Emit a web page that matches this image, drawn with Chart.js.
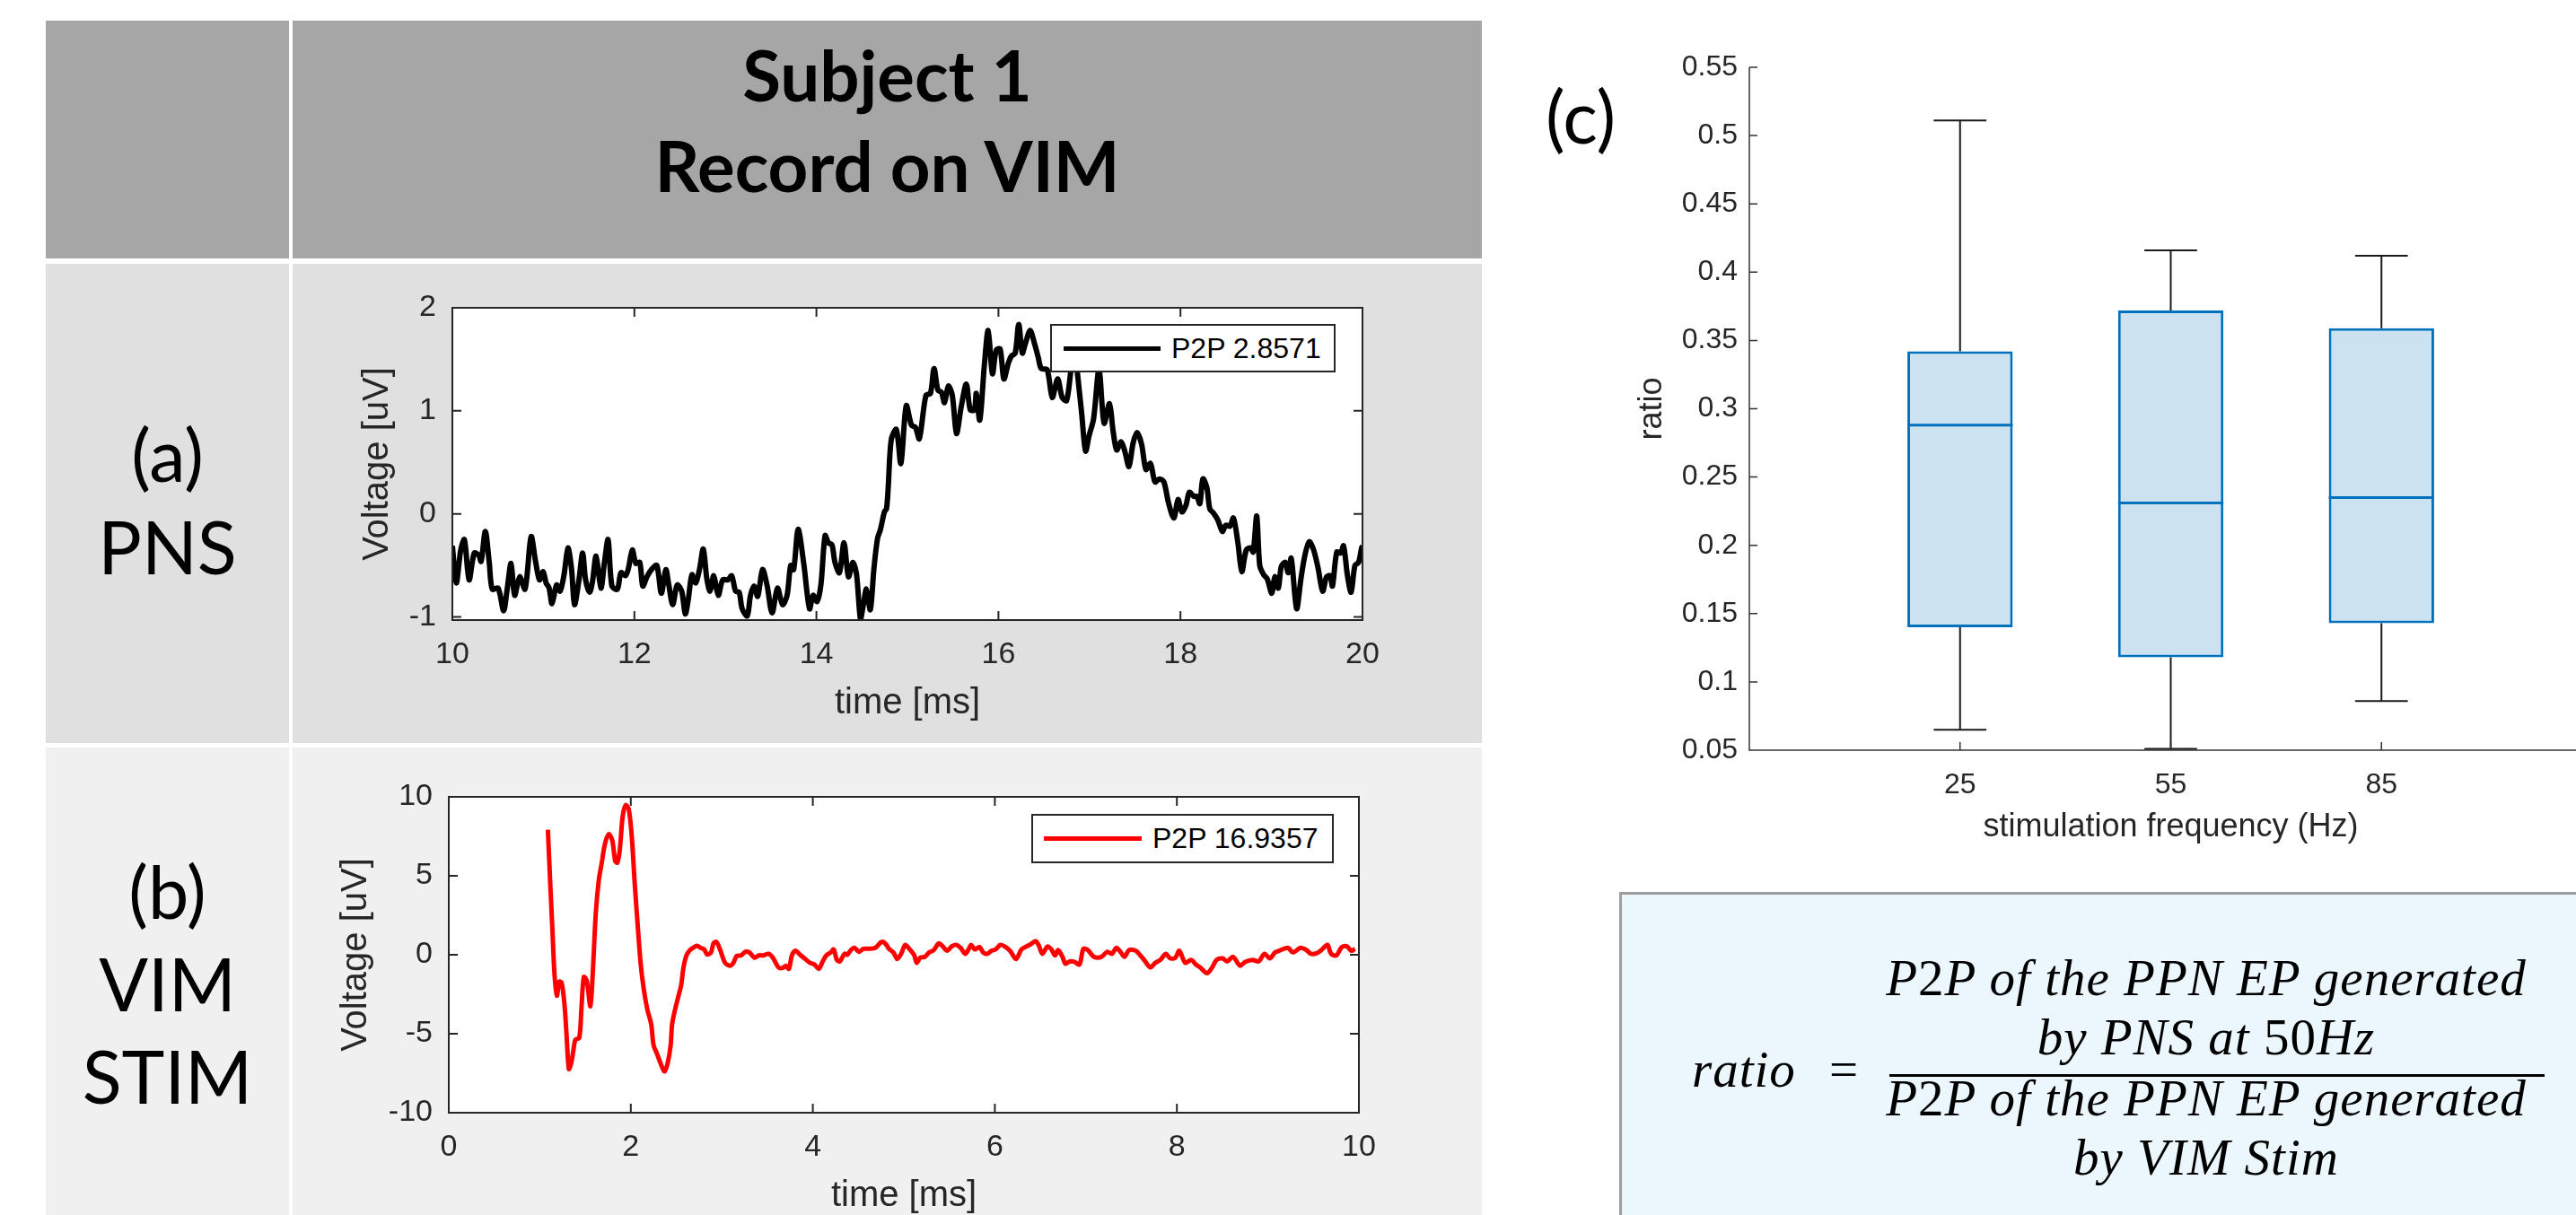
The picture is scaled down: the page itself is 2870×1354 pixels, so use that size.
<!DOCTYPE html>
<html>
<head>
<meta charset="utf-8">
<script src="https://cdn.jsdelivr.net/npm/chart.js@4.4.1/dist/chart.umd.min.js"></script>
<style>
html, body { margin: 0; padding: 0; width: 2870px; height: 1354px; overflow: hidden; background: #fff; }
.cell { position: absolute; }
.lbl { position: absolute; font-family: Lato, 'Open Sans', sans-serif; color: #000; text-align: center; white-space: nowrap; }
canvas { position: absolute; }
.legend { position: absolute; background: #fff; border: 2px solid #262626; box-sizing: border-box;
  font-family: 'Liberation Sans', Arial, sans-serif; font-size: 32px; color: #000; }
.legend .sample { position: absolute; height: 5px; }
.legend .txt { position: absolute; top: 0; line-height: 50px; white-space: nowrap; }
.fbox { position: absolute; left: 1804px; top: 994px; width: 1090px; height: 380px; background: #ebf7fd; border: 3px solid #9e9e9e; }
.fx { position: absolute; font-family: 'Liberation Serif', 'Times New Roman', serif; font-style: italic; font-size: 57px; line-height: 57px; letter-spacing: 1px; color: #000; white-space: nowrap; }
.fx .up { font-style: normal; }
.num { left: 2093px; width: 730px; text-align: center; }
</style>
</head>
<body>

<!-- table background -->
<div class="cell" style="left:51px;top:23px;width:271px;height:265px;background:#a6a6a6"></div>
<div class="cell" style="left:326px;top:23px;width:1325px;height:265px;background:#a6a6a6"></div>
<div class="cell" style="left:51px;top:294px;width:271px;height:534px;background:#e0e0e0"></div>
<div class="cell" style="left:326px;top:294px;width:1325px;height:534px;background:#e0e0e0"></div>
<div class="cell" style="left:51px;top:833px;width:271px;height:521px;background:#f0f0f0"></div>
<div class="cell" style="left:326px;top:833px;width:1325px;height:521px;background:#f0f0f0"></div>

<div class="lbl" style="left:326px;top:33px;width:1325px;font-weight:700;font-size:78px;line-height:101px">Subject 1<br>Record on VIM</div>
<div class="lbl" style="left:51px;top:454px;width:271px;font-size:81px;line-height:103px">(a)<br>PNS</div>
<div class="lbl" style="left:51px;top:941px;width:271px;font-size:81px;line-height:103px">(b)<br>VIM<br>STIM</div>
<div class="lbl" style="left:1700px;top:88px;width:122px;font-size:81px;line-height:81px">(c)</div>

<canvas id="chartA" width="1213" height="521" style="left:330px;top:300px"></canvas>
<canvas id="chartB" width="1209" height="530" style="left:330px;top:840px"></canvas>
<canvas id="chartC" width="1150" height="926" style="left:1760px;top:40px"></canvas>

<div class="legend" style="left:1170px;top:361px;width:318px;height:54px">
  <div class="sample" style="left:13px;top:23px;width:108px;background:#000"></div>
  <div class="txt" style="left:133px">P2P 2.8571</div>
</div>
<div class="legend" style="left:1149px;top:907px;width:337px;height:55px">
  <div class="sample" style="left:12px;top:23px;width:109px;background:#ff0000"></div>
  <div class="txt" style="left:133px">P2P 16.9357</div>
</div>

<div class="fbox"></div>
<div class="fx" style="left:1885px;top:1163px">ratio</div>
<div class="fx" style="left:2038px;top:1163px;font-style:normal">=</div>
<div class="fx num" style="top:1061px">P<span class="up">2</span>P of the PPN EP generated</div>
<div class="fx num" style="top:1127px">by PNS at <span class="up">50</span>Hz</div>
<div style="position:absolute;left:2105px;top:1197px;width:730px;height:3px;background:#000"></div>
<div class="fx num" style="top:1195px">P<span class="up">2</span>P of the PPN EP generated</div>
<div class="fx num" style="top:1261px">by VIM Stim</div>

<script>
// (a) PNS, recorded on VIM
var timeA = [
  10.000,10.043,10.092,10.132,10.184,10.240,10.289,10.316,10.362,10.405,
  10.438,10.503,10.563,10.602,10.645,10.684,10.740,10.799,10.865,10.914,
  10.957,10.997,11.030,11.063,11.095,11.145,11.184,11.227,11.270,11.309,
  11.342,11.391,11.431,11.464,11.507,11.539,11.579,11.632,11.671,11.711,
  11.753,11.813,11.852,11.901,11.934,11.977,12.016,12.059,12.092,12.138,
  12.197,12.247,12.296,12.345,12.378,12.421,12.470,12.520,12.559,12.592,
  12.632,12.674,12.717,12.757,12.796,12.832,12.872,12.921,12.970,13.026,
  13.069,13.112,13.151,13.184,13.240,13.276,13.316,13.355,13.408,13.457,
  13.513,13.572,13.628,13.678,13.717,13.750,13.799,13.859,13.924,13.964,
  14.007,14.049,14.095,14.132,14.171,14.204,14.253,14.303,14.352,14.401,
  14.441,14.484,14.516,14.549,14.592,14.632,14.671,14.704,14.747,14.770,
  14.789,14.822,14.878,14.928,14.987,
  15.045,15.088,15.131,15.203,15.253,15.292,15.335,15.374,15.407,15.450,
  15.493,15.539,15.591,15.647,15.690,15.736,15.756,15.795,15.845,15.887,
  15.934,15.976,16.019,16.059,16.108,16.141,16.184,16.223,16.262,16.295,
  16.348,16.394,16.437,16.470,16.535,16.591,16.651,16.700,16.749,16.799,
  16.841,16.864,16.914,16.957,16.996,17.045,17.105,17.161,17.220,17.259,
  17.299,17.348,17.391,17.434,17.480,17.522,17.572,17.621,17.670,17.720,
  17.769,17.818,17.868,17.927,17.973,18.016,18.059,18.098,18.147,18.180,
  18.213,18.246,18.289,18.322,18.361,18.411,18.460,18.499,18.542,18.582,
  18.631,18.674,18.723,18.772,18.799,18.838,18.871,18.914,18.953,19.003,
  19.036,19.075,19.108,19.151,19.184,19.217,19.276,19.322,19.365,19.414,
  19.463,19.513,19.562,19.605,19.644,19.670,19.717,19.759,19.792,19.835,
  19.875,19.917,19.957,19.990,20.000
];
var voltA = [
  -0.31,-0.67,-0.35,-0.25,-0.64,-0.38,-0.40,-0.46,-0.17,-0.47,
  -0.73,-0.72,-0.94,-0.73,-0.48,-0.79,-0.61,-0.73,-0.22,-0.46,
  -0.64,-0.56,-0.67,-0.72,-0.87,-0.69,-0.75,-0.59,-0.33,-0.53,
  -0.88,-0.64,-0.38,-0.64,-0.76,-0.66,-0.41,-0.72,-0.47,-0.25,
  -0.70,-0.73,-0.57,-0.60,-0.53,-0.35,-0.48,-0.47,-0.70,-0.61,
  -0.53,-0.50,-0.77,-0.54,-0.69,-0.88,-0.69,-0.75,-0.97,-0.83,
  -0.59,-0.67,-0.53,-0.34,-0.63,-0.75,-0.60,-0.79,-0.64,-0.64,
  -0.60,-0.75,-0.76,-0.92,-0.99,-0.79,-0.70,-0.80,-0.54,-0.69,
  -0.96,-0.72,-0.88,-0.79,-0.50,-0.54,-0.15,-0.47,-0.92,-0.79,
  -0.85,-0.69,-0.21,-0.28,-0.30,-0.47,-0.57,-0.28,-0.61,-0.47,
  -0.59,-1.02,-0.88,-0.73,-0.93,-0.53,-0.24,-0.15,0.02,0.05,
  0.26,0.72,0.82,0.49,1.05,
  0.86,0.84,0.73,1.15,1.17,1.41,1.20,1.18,1.08,1.24,
  1.15,0.78,1.04,1.26,1.01,1.01,1.17,0.91,1.44,1.78,
  1.36,1.59,1.60,1.31,1.46,1.53,1.56,1.84,1.56,1.65,
  1.78,1.66,1.52,1.41,1.40,1.13,1.31,1.13,1.10,1.41,
  1.62,1.40,0.98,0.61,0.76,0.92,1.40,0.88,1.07,0.81,
  0.62,0.70,0.60,0.46,0.69,0.79,0.68,0.43,0.49,0.31,
  0.34,0.31,0.11,-0.04,0.14,0.02,0.08,0.21,0.17,0.17,
  0.10,0.34,0.26,0.05,0.01,-0.06,-0.17,-0.11,-0.12,-0.04,
  -0.28,-0.56,-0.35,-0.33,-0.37,-0.02,-0.50,-0.59,-0.63,-0.77,
  -0.61,-0.72,-0.51,-0.47,-0.57,-0.43,-0.92,-0.64,-0.41,-0.27,
  -0.35,-0.53,-0.75,-0.61,-0.60,-0.70,-0.37,-0.38,-0.31,-0.60,
  -0.76,-0.50,-0.47,-0.33,-0.31
];
var xTicksA = [10, 12, 14, 16, 18, 20];
var yTicksA = [-1, 0, 1, 2];

// (b) VIM stimulation
var timeB = [
  1.089,1.115,1.138,1.161,1.188,1.214,1.240,1.270,1.293,1.319,
  1.345,1.368,1.391,1.434,1.457,1.484,1.516,1.556,1.582,1.615,
  1.648,1.681,1.714,1.757,1.796,1.829,1.852,1.878,1.911,1.944,
  1.977,2.010,2.043,2.076,2.109,2.141,2.181,2.224,2.250,2.289,
  2.332,2.372,2.405,2.438,2.454,2.487,2.520,2.553,2.579,2.612,
  2.651,2.684,2.727,2.766,2.806,2.839,2.882,2.908,2.941,2.980,
  3.036,3.089,3.128,3.161,3.211,3.260,3.303,3.359,3.408,3.457,
  3.516,3.566,3.622,3.671,3.704,3.737,3.770,3.809,3.868,3.918,
  3.967,4.016,4.066,4.109,4.148,4.197,4.230,4.263,4.296,4.349,
  4.378,4.418,4.457,4.507,4.556,4.605,4.688,4.753,4.796,4.836,
  4.885,4.928,4.970,
  5.016,5.065,5.115,5.141,5.180,5.230,5.279,5.328,5.384,5.427,
  5.476,5.526,5.575,5.624,5.674,5.707,5.740,5.779,5.832,5.871,
  5.914,5.963,6.009,6.062,6.118,6.167,6.233,6.292,6.348,6.397,
  6.447,6.480,6.522,6.578,6.621,6.661,6.694,6.743,6.776,6.825,
  6.874,6.930,6.973,7.022,7.088,7.171,7.236,7.286,7.335,7.384,
  7.424,7.476,7.549,7.598,7.647,7.707,7.763,7.819,7.878,7.927,
  7.983,8.026,8.092,8.157,8.207,8.256,8.332,8.388,8.437,8.503,
  8.552,8.618,8.694,8.750,8.832,8.898,8.963,9.022,9.079,9.144,
  9.220,9.276,9.358,9.424,9.473,9.539,9.588,9.654,9.694,9.753,
  9.812,9.868,9.917,9.957
];
var voltB = [
  7.92,4.51,1.67,-1.17,-2.59,-1.70,-1.78,-3.07,-4.96,-7.23,
  -6.86,-6.10,-5.38,-5.25,-3.45,-1.40,-1.65,-3.26,-1.17,2.61,
  4.70,5.83,6.97,7.63,7.25,5.93,5.83,6.59,8.77,9.47,
  9.24,7.54,4.51,1.86,-0.61,-2.12,-3.45,-4.39,-5.72,-6.29,
  -6.95,-7.39,-6.86,-5.72,-4.39,-3.45,-2.69,-1.93,-0.80,-0.04,
  0.30,0.44,0.57,0.44,0.34,0.02,0.15,0.72,0.81,0.34,
  -0.51,-0.70,-0.51,-0.08,-0.04,0.19,0.15,-0.19,-0.04,-0.04,
  0.06,-0.23,-0.80,-0.83,-0.70,-0.89,-0.04,0.25,-0.04,-0.27,
  -0.51,-0.61,-0.89,-0.42,-0.04,0.15,0.34,-0.32,-0.42,0.06,
  0.00,0.30,0.44,0.19,0.38,0.38,0.44,0.81,0.72,0.38,
  0.15,-0.27,0.06,
  0.63,0.34,-0.04,-0.51,-0.19,-0.13,0.15,0.30,0.72,0.53,
  0.25,0.53,0.63,0.44,0.06,0.30,0.63,0.34,0.49,0.15,
  0.06,0.25,0.34,0.63,0.49,0.25,-0.27,0.34,0.53,0.68,
  0.87,0.63,0.06,0.53,0.34,-0.04,0.30,-0.13,-0.57,-0.42,
  -0.45,-0.61,0.38,0.30,-0.13,-0.13,0.19,0.06,0.44,0.15,
  -0.13,0.30,0.25,-0.04,-0.38,-0.80,-0.51,-0.32,0.06,-0.23,
  -0.19,0.25,-0.51,-0.32,-0.61,-0.80,-1.17,-0.80,-0.32,-0.23,
  -0.42,-0.13,-0.70,-0.45,-0.32,-0.42,0.06,-0.23,0.15,0.30,
  0.44,0.15,0.44,0.30,0.06,0.11,0.30,0.63,0.06,-0.04,
  0.49,0.53,0.25,0.38
];
var xTicksB = [0, 2, 4, 6, 8, 10];
var yTicksB = [-10, -5, 0, 5, 10];

// (c) ratio box plot per stimulation frequency
var freqLabels = ['25', '55', '85'];
var freqPos = [1, 2, 3];
var whiskerLow = [0.065, 0.051, 0.086];
var quart1 = [0.140, 0.118, 0.143];
var medians = [0.288, 0.231, 0.235];
var quart3 = [0.342, 0.372, 0.359];
var whiskerHigh = [0.511, 0.416, 0.412];
var yTicksC = [0.05, 0.1, 0.15, 0.2, 0.25, 0.3, 0.35, 0.4, 0.45, 0.5, 0.55];
var yTickLabelsC = ['0.05', '0.1', '0.15', '0.2', '0.25', '0.3', '0.35', '0.4', '0.45', '0.5', '0.55'];

Chart.defaults.font.family = "'Liberation Sans', Arial, Helvetica, sans-serif";
Chart.defaults.color = '#262626';

// matlab style axes: box frame and ticks pointing inwards
var matlabAxes = {
    id: 'matlabAxes',
    beforeDraw: function (chart, args, opts) {
        if (!opts.fill) return;
        var a = chart.chartArea;
        chart.ctx.save();
        chart.ctx.fillStyle = opts.fill;
        chart.ctx.fillRect(a.left, a.top, a.right - a.left, a.bottom - a.top);
        chart.ctx.restore();
    },
    afterDraw: function (chart, args, opts) {
        var ctx = chart.ctx, a = chart.chartArea;
        var sx = chart.scales.x, sy = chart.scales.y;
        var len = opts.tickLen;
        ctx.save();
        ctx.strokeStyle = opts.color;
        ctx.lineWidth = opts.width;
        ctx.beginPath();
        if (opts.box) {
            ctx.rect(a.left, a.top, a.right - a.left, a.bottom - a.top);
        } else {
            ctx.moveTo(a.left, a.top);
            ctx.lineTo(a.left, a.bottom);
            ctx.lineTo(a.right, a.bottom);
        }
        sx.ticks.forEach(function (t) {
            var px = sx.getPixelForValue(t.value);
            ctx.moveTo(px, a.bottom);
            ctx.lineTo(px, a.bottom - len);
            if (opts.box) {
                ctx.moveTo(px, a.top);
                ctx.lineTo(px, a.top + len);
            }
        });
        sy.ticks.forEach(function (t) {
            var py = sy.getPixelForValue(t.value);
            ctx.moveTo(a.left, py);
            ctx.lineTo(a.left + len, py);
            if (opts.box) {
                ctx.moveTo(a.right, py);
                ctx.lineTo(a.right - len, py);
            }
        });
        ctx.stroke();
        ctx.restore();
    }
};

// fixed axis sizes so the plot area lands where the figure has it
function fixHeight(h) {
    return function (s) { s.height = h; s.paddingLeft = 0; s.paddingRight = 0; };
}
function fixWidth(w) {
    return function (s) { s.width = w; s.paddingTop = 0; s.paddingBottom = 0; };
}

function traceChart(id, xs, ys, color, lineWidth, xTicks, yTicks, xMin, xMax, yMin, yMax, yAxisWidth, titlePad, padding) {
    var points = xs.map(function (x, i) { return { x: x, y: ys[i] }; });
    return new Chart(document.getElementById(id), {
        type: 'line',
        data: {
            datasets: [{
                data: points,
                borderColor: color,
                borderWidth: lineWidth,
                borderJoinStyle: 'round',
                pointRadius: 0,
                tension: 0.3,
                fill: false
            }]
        },
        plugins: [matlabAxes],
        options: {
            responsive: false,
            devicePixelRatio: 1,
            animation: false,
            layout: { padding: padding },
            plugins: {
                legend: { display: false },
                tooltip: { enabled: false },
                matlabAxes: { box: true, tickLen: 10, color: '#262626', width: 2, fill: '#ffffff' }
            },
            scales: {
                x: {
                    type: 'linear', min: xMin, max: xMax,
                    afterBuildTicks: function (s) { s.ticks = xTicks.map(function (v) { return { value: v }; }); },
                    afterFit: fixHeight(130),
                    grid: { display: false, drawTicks: false },
                    border: { display: false },
                    ticks: { font: { size: 34 }, padding: 18, maxRotation: 0, autoSkip: false,
                             callback: function (v) { return String(v); } },
                    title: { display: true, text: 'time [ms]', font: { size: 40 }, padding: { top: 0, bottom: 13 } }
                },
                y: {
                    type: 'linear', min: yMin, max: yMax,
                    afterBuildTicks: function (s) { s.ticks = yTicks.map(function (v) { return { value: v }; }); },
                    afterFit: fixWidth(yAxisWidth),
                    grid: { display: false, drawTicks: false },
                    border: { display: false },
                    ticks: { font: { size: 34 }, padding: 18, autoSkip: false,
                             callback: function (v) { return String(v); } },
                    title: { display: true, text: 'Voltage [uV]', font: { size: 40 }, padding: { top: titlePad, bottom: 0 } }
                }
            }
        }
    });
}

traceChart('chartA', timeA, voltA, '#000000', 6, xTicksA, yTicksA, 10, 20, -1.03, 2, 174, 67,
    { top: 43, right: 25, bottom: 0, left: 0 });
traceChart('chartB', timeB, voltB, '#ff0000', 5, xTicksB, yTicksB, 0, 10, -10, 10, 170, 43,
    { top: 48, right: 25, bottom: 0, left: 0 });

// box plot pieces
var boxes = freqPos.map(function (p, i) { return { x: p, y: [quart1[i], quart3[i]] }; });
var whiskers = [], caps = [], medLines = [];
freqPos.forEach(function (p, i) {
    whiskers.push({ x: p, y: quart3[i] }, { x: p, y: whiskerHigh[i] }, { x: p, y: null });
    whiskers.push({ x: p, y: whiskerLow[i] }, { x: p, y: quart1[i] }, { x: p, y: null });
    caps.push({ x: p - 0.125, y: whiskerHigh[i] }, { x: p + 0.125, y: whiskerHigh[i] }, { x: p, y: null });
    caps.push({ x: p - 0.125, y: whiskerLow[i] }, { x: p + 0.125, y: whiskerLow[i] }, { x: p, y: null });
    medLines.push({ x: p - 0.25, y: medians[i] }, { x: p + 0.25, y: medians[i] }, { x: p, y: null });
});

new Chart(document.getElementById('chartC'), {
    type: 'bar',
    data: {
        datasets: [
            {
                type: 'bar', data: boxes, order: 3,
                backgroundColor: '#cde2f1', borderColor: '#0072bd', borderWidth: 3,
                borderSkipped: false, barPercentage: 0.5, categoryPercentage: 1
            },
            {
                type: 'line', data: whiskers, order: 2, borderColor: '#1a1a1a', borderWidth: 2,
                pointRadius: 0, spanGaps: false, fill: false
            },
            {
                type: 'line', data: caps, order: 2, borderColor: '#1a1a1a', borderWidth: 2,
                pointRadius: 0, spanGaps: false, fill: false
            },
            {
                type: 'line', data: medLines, order: 1, borderColor: '#0072bd', borderWidth: 3,
                pointRadius: 0, spanGaps: false, fill: false
            }
        ]
    },
    plugins: [matlabAxes],
    options: {
        responsive: false,
        devicePixelRatio: 1,
        animation: false,
        layout: { padding: { top: 35, right: 22, bottom: 0, left: 0 } },
        plugins: {
            legend: { display: false },
            tooltip: { enabled: false },
            matlabAxes: { box: false, tickLen: 9, color: '#333333', width: 1.5 }
        },
        scales: {
            x: {
                type: 'linear', min: 0, max: 4, offset: false,
                afterBuildTicks: function (s) { s.ticks = freqPos.map(function (v) { return { value: v }; }); },
                afterFit: fixHeight(130),
                grid: { display: false, drawTicks: false, offset: false },
                border: { display: false },
                ticks: { font: { size: 32 }, padding: 20, maxRotation: 0, autoSkip: false,
                         callback: function (v, i) { return freqLabels[i]; } },
                title: { display: true, text: 'stimulation frequency (Hz)', font: { size: 36 }, padding: { top: 0, bottom: 22 } }
            },
            y: {
                type: 'linear', min: 0.05, max: 0.55,
                afterBuildTicks: function (s) { s.ticks = yTicksC.map(function (v) { return { value: v }; }); },
                afterFit: fixWidth(189),
                grid: { display: false, drawTicks: false },
                border: { display: false },
                ticks: { font: { size: 32 }, padding: 13, autoSkip: false,
                         callback: function (v, i) { return yTickLabelsC[i]; } },
                title: { display: true, text: 'ratio', font: { size: 36 }, padding: { top: 59, bottom: 0 } }
            }
        }
    }
});
</script>
</body>
</html>
